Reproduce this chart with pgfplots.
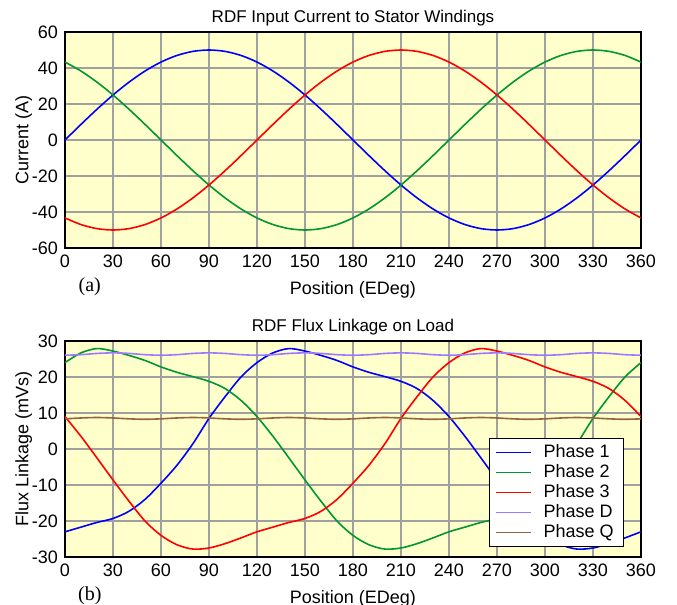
\documentclass[border=0pt]{standalone}
\usepackage{fontspec}
\setmainfont{Liberation Sans}
\newfontfamily\seriffont{Liberation Serif}
\usepackage{pgfplots}
\usepackage{pgfplotstable}
\pgfplotsset{compat=1.18}

\definecolor{bgyellow}{RGB}{255,255,204}
\definecolor{gridgray}{RGB}{160,160,160}
\definecolor{p1}{RGB}{0,0,255}
\definecolor{p2}{RGB}{0,150,50}
\definecolor{p3}{RGB}{255,0,0}
\definecolor{pd}{RGB}{160,120,255}
\definecolor{pq}{RGB}{150,100,60}

% currents (A)
\pgfplotstableread{
x    a1      a2      a3
0    0.00    43.30   -43.30
10   8.68    38.30   -46.98
20   17.10   32.14   -49.24
30   25.00   25.00   -50.00
40   32.14   17.10   -49.24
50   38.30   8.68    -46.98
60   43.30   0.00    -43.30
70   46.98   -8.68   -38.30
80   49.24   -17.10  -32.14
90   50.00   -25.00  -25.00
100  49.24   -32.14  -17.10
110  46.98   -38.30  -8.68
120  43.30   -43.30  0.00
130  38.30   -46.98  8.68
140  32.14   -49.24  17.10
150  25.00   -50.00  25.00
160  17.10   -49.24  32.14
170  8.68    -46.98  38.30
180  0.00    -43.30  43.30
190  -8.68   -38.30  46.98
200  -17.10  -32.14  49.24
210  -25.00  -25.00  50.00
220  -32.14  -17.10  49.24
230  -38.30  -8.68   46.98
240  -43.30  0.00    43.30
250  -46.98  8.68    38.30
260  -49.24  17.10   32.14
270  -50.00  25.00   25.00
280  -49.24  32.14   17.10
290  -46.98  38.30   8.68
300  -43.30  43.30   0.00
310  -38.30  46.98   -8.68
320  -32.14  49.24   -17.10
330  -25.00  50.00   -25.00
340  -17.10  49.24   -32.14
350  -8.68   46.98   -38.30
360  0.00    43.30   -43.30
}\currents

% flux linkage (mVs)
\pgfplotstableread{
x    f1      f2      f3      fd      fq
0    -23.0   24.0    9.0     26.05   8.38
10   -21.7   26.7    3.5     26.20   8.62
20   -20.4   27.9    -2.5    26.55   8.75
30   -19.3   27.2    -8.6    26.70   8.62
40   -17.3   26.0    -14.5   26.55   8.38
50   -14.0   24.6    -20.0   26.20   8.25
60   -9.5    22.8    -24.0   26.05   8.38
70   -4.5    21.3    -26.6   26.20   8.62
80   1.5     20.1    -27.8   26.55   8.75
90   8.5     18.8    -27.5   26.70   8.62
100  14.5    16.8    -26.3   26.55   8.38
110  20.0    13.5    -24.7   26.20   8.25
120  24.0    9.0     -23.0   26.05   8.38
130  26.7    3.5     -21.7   26.20   8.62
140  27.9    -2.5    -20.4   26.55   8.75
150  27.2    -8.6    -19.3   26.70   8.62
160  26.0    -14.5   -17.3   26.55   8.38
170  24.6    -20.0   -14.0   26.20   8.25
180  22.8    -24.0   -9.5    26.05   8.38
190  21.3    -26.6   -4.5    26.20   8.62
200  20.1    -27.8   1.5     26.55   8.75
210  18.8    -27.5   8.5     26.70   8.62
220  16.8    -26.3   14.5    26.55   8.38
230  13.5    -24.7   20.0    26.20   8.25
240  9.0     -23.0   24.0    26.05   8.38
250  3.5     -21.7   26.7    26.20   8.62
260  -2.5    -20.4   27.9    26.55   8.75
270  -8.6    -19.3   27.2    26.70   8.62
280  -14.5   -17.3   26.0    26.55   8.38
290  -20.0   -14.0   24.6    26.20   8.25
300  -24.0   -9.5    22.8    26.05   8.38
310  -26.6   -4.5    21.3    26.20   8.62
320  -27.8   1.5     20.1    26.55   8.75
330  -27.5   8.5     18.8    26.70   8.62
340  -26.3   14.5    16.8    26.55   8.38
350  -24.7   20.0    13.5    26.20   8.25
360  -23.0   24.0    9.0     26.05   8.38
}\flux

\pgfplotsset{
  rdf/.style={
    scale only axis, width=288pt, height=108pt,
    xmin=0, xmax=360, xtick={0,30,...,360},
    grid=major,
    major grid style={color=gridgray, line width=0.7pt},
    axis line style={line width=0.9pt},
    axis background/.style={fill=bgyellow},
    major tick length=0pt,
    tick label style={font=\fontsize{9}{10}\selectfont},
    label style={font=\fontsize{9}{10}\selectfont},
    ylabel shift=-7pt,
    title style={font=\fontsize{8.5}{10}\selectfont, yshift=-6.5pt},
    /pgf/number format/assume math mode=true,
    xlabel={Position (EDeg)},
    every axis plot/.append style={line width=0.8pt, smooth},
    clip mode=individual,
  }
}

\begin{document}
\begin{tikzpicture}
\begin{axis}[rdf,
    title={RDF Input Current to Stator Windings},
    ylabel={Current (A)},
    ymin=-60, ymax=60, ytick={-60,-40,...,60}]
  \addplot[p1] table[x=x, y=a1] {\currents};
  \addplot[p2] table[x=x, y=a2] {\currents};
  \addplot[p3] table[x=x, y=a3] {\currents};
  \node[font=\seriffont\fontsize{10}{12}\selectfont] at (rel axis cs:0.043,0) [yshift=-19.5pt] {(a)};
\end{axis}

\begin{axis}[rdf, at={(0,-154.5pt)},
    title={RDF Flux Linkage on Load},
    ylabel={Flux Linkage (mVs)},
    ymin=-30, ymax=30, ytick={-30,-20,...,30},
    legend image code/.code={\draw[#1] (0cm,0cm) -- (0.62cm,0cm); \path (0.75cm,0cm);},
    legend style={at={(0.9705,0.046)}, anchor=south east, draw=black,
      fill=white, font=\fontsize{9}{10}\selectfont, row sep=0pt,
      nodes={inner ysep=1pt}, cells={anchor=west}}]
  \addplot[p1] table[x=x, y=f1] {\flux};
  \addplot[p2] table[x=x, y=f2] {\flux};
  \addplot[p3] table[x=x, y=f3] {\flux};
  \addplot[pd] table[x=x, y=fd] {\flux};
  \addplot[pq] table[x=x, y=fq] {\flux};
  \legend{Phase 1, Phase 2, Phase 3, Phase D, Phase Q}
  \node[font=\seriffont\fontsize{10}{12}\selectfont] at (rel axis cs:0.043,0) [yshift=-19.5pt] {(b)};
\end{axis}
\pgfresetboundingbox
\path[use as bounding box] (-32.5pt,-178.5pt) rectangle (306pt,124pt);
\end{tikzpicture}
\end{document}
